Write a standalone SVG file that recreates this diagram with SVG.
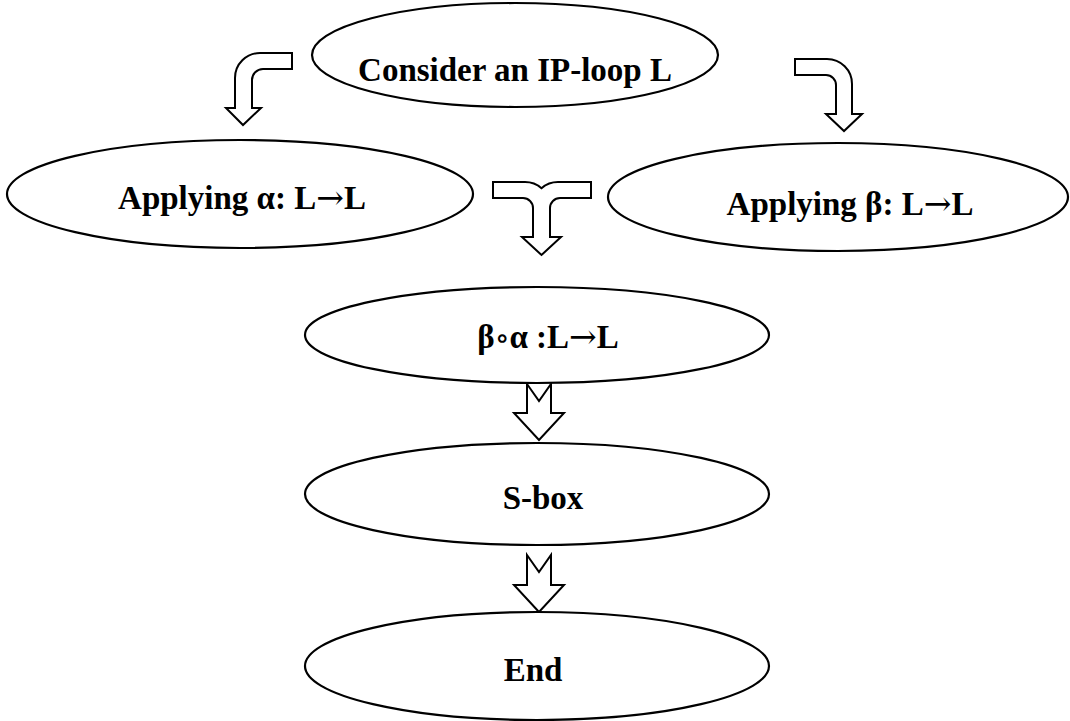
<svg xmlns="http://www.w3.org/2000/svg" width="1070" height="721" viewBox="0 0 1070 721">
  <style>
    .node ellipse { fill: #ffffff; stroke: #000000; stroke-width: 2.2; }
    .node text { font-family: "Liberation Serif", "Times New Roman", serif; font-weight: bold; font-size: 33px; fill: #000000; text-anchor: middle; }
    .node .arr { font-family: "DejaVu Serif", serif; font-weight: normal; }
    .block { fill: #ffffff; stroke: #000000; stroke-width: 2; stroke-linejoin: miter; }
  </style>
  <rect width="1070" height="721" fill="#ffffff"/>

  <!-- block arrows between the steps -->
  <g id="connectors">
    <!-- from the IP-loop to alpha: bent arrow turning down on the left -->
    <path class="block" d="M 292 53 L 260 53 A 25 25 0 0 0 235 78 L 235 108 L 226 108 L 243 125 L 261 108 L 252 108 L 252 80 A 11 11 0 0 1 263 69 L 292 69 Z"/>
    <!-- from the IP-loop to beta: bent arrow turning down on the right -->
    <path class="block" d="M 795 59 L 827 59 A 25 25 0 0 1 852 84 L 852 114 L 862 114 L 844 131 L 826 114 L 836 114 L 836 85 A 10 10 0 0 0 826 75 L 795 75 Z"/>
    <!-- alpha and beta merging into the composition -->
    <path class="block" d="M 493 182 L 525 182 A 25 25 0 0 1 541.5 188.2 A 25 25 0 0 1 558 182 L 591 182 L 591 198 L 560 198 A 10 10 0 0 0 550 208 L 550 237 L 561 237 L 541.5 255 L 522 237 L 533 237 L 533 208 A 10 10 0 0 0 523 198 L 493 198 Z"/>
    <!-- notched down arrows -->
    <path class="block" d="M 527 384 L 539 401 L 551 384 L 551 413 L 564 413 L 539 440 L 514 413 L 527 413 Z"/>
    <path class="block" d="M 527 555 L 539 572 L 551 555 L 551 585 L 564 585 L 539 612 L 514 585 L 527 585 Z"/>
  </g>

  <g id="node-start" class="node">
    <ellipse cx="515" cy="55" rx="203" ry="52"/>
    <text x="515" y="81">Consider an IP-loop L</text>
  </g>

  <g id="node-alpha" class="node">
    <ellipse cx="240" cy="194" rx="233" ry="54"/>
    <text x="242" y="209">Applying α: L<tspan class="arr">→</tspan>L</text>
  </g>

  <g id="node-beta" class="node">
    <ellipse cx="838" cy="197" rx="230" ry="54"/>
    <text x="850" y="215">Applying β: L<tspan class="arr">→</tspan>L</text>
  </g>

  <g id="node-compose" class="node">
    <ellipse cx="537" cy="335" rx="232" ry="48"/>
    <text x="548" y="348">β<tspan class="arr" font-size="30">∘</tspan>α :L<tspan class="arr">→</tspan>L</text>
  </g>

  <g id="node-sbox" class="node">
    <ellipse cx="537" cy="494" rx="232" ry="51"/>
    <text x="543" y="509">S-box</text>
  </g>

  <g id="node-end" class="node">
    <ellipse cx="537" cy="666" rx="232" ry="54"/>
    <text x="533" y="681">End</text>
  </g>
</svg>
